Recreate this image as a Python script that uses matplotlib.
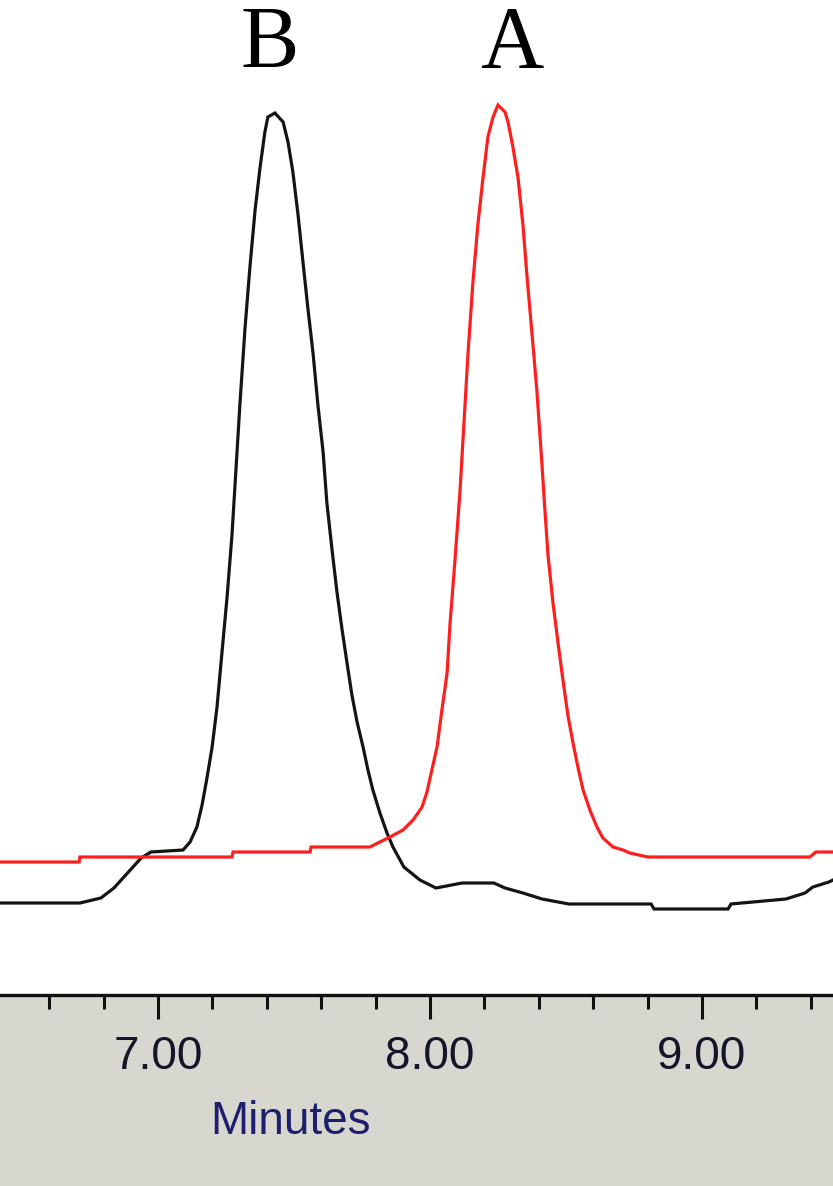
import matplotlib
matplotlib.use("Agg")
import matplotlib.pyplot as plt
from matplotlib.ticker import MultipleLocator, FormatStrFormatter

# ---- data (time in minutes, detector response in arbitrary units) ----
black_t = [6.419, 6.713, 6.790, 6.838, 6.938, 6.974, 7.092, 7.118, 7.143, 7.162,
           7.180, 7.199, 7.217, 7.235, 7.254, 7.272, 7.287, 7.301, 7.320, 7.338,
           7.357, 7.375, 7.393, 7.404, 7.430, 7.460, 7.478, 7.496, 7.515, 7.533,
           7.551, 7.570, 7.588, 7.607, 7.621, 7.640, 7.658, 7.676, 7.695, 7.713,
           7.732, 7.754, 7.772, 7.790, 7.816, 7.842, 7.864, 7.904, 7.963, 8.022,
           8.118, 8.235, 8.276, 8.342, 8.412, 8.511, 8.813, 8.824, 9.096, 9.107,
           9.309, 9.379, 9.408, 9.467, 9.482]
black_y = [92, 92, 97, 107, 137, 143, 145, 153, 168, 190,
           217, 248, 288, 342, 398, 460, 527, 590, 667, 728,
           785, 827, 863, 878, 882, 873, 853, 823, 780, 733,
           687, 642, 590, 543, 492, 445, 403, 367, 332, 300,
           273, 248, 225, 205, 182, 162, 148, 128, 115, 107,
           112, 112, 107, 102, 96, 91, 91, 86, 86, 91,
           96, 102, 108, 113, 115]

red_t = [6.419, 6.710, 6.713, 7.272, 7.276, 7.559, 7.563, 7.779, 7.816, 7.853,
         7.901, 7.938, 7.971, 7.989, 8.007, 8.026, 8.044, 8.063, 8.074, 8.092,
         8.110, 8.125, 8.140, 8.158, 8.176, 8.195, 8.213, 8.232, 8.250, 8.276,
         8.287, 8.305, 8.324, 8.342, 8.357, 8.375, 8.393, 8.412, 8.419, 8.434,
         8.452, 8.471, 8.489, 8.507, 8.526, 8.544, 8.563, 8.588, 8.614, 8.636,
         8.673, 8.710, 8.735, 8.801, 9.397, 9.419, 9.482]
red_y = [133, 133, 138, 138, 143, 143, 148, 148, 153, 158,
         165, 175, 188, 203, 225, 248, 285, 322, 372, 435,
         502, 572, 642, 713, 770, 817, 858, 878, 890, 883,
         873, 848, 817, 770, 718, 662, 605, 530, 500, 440,
         393, 352, 315, 280, 252, 228, 205, 185, 168, 157,
         148, 145, 142, 138, 138, 143, 143]

peak_labels = ["B", "A"]
peak_label_t = [7.412, 8.301]
peak_label_y = [928, 928]

x_range = (6.419, 9.482)
y_range = (0, 995)
major_step = 1.0
minor_step = 0.2
x_label = "Minutes"

# ---- figure ----
W, H = 833, 1186
fig = plt.figure(figsize=(W / 100, H / 100), dpi=100)
fig.patch.set_facecolor("#d7d7cf")

ax = fig.add_axes([0, 191 / H, 1, 995 / H])
ax.set_facecolor("white")
ax.set_xlim(*x_range)
ax.set_ylim(*y_range)

ax.plot(black_t, black_y, color="#141414", lw=2.3, solid_joinstyle="miter")
ax.plot(red_t, red_y, color="#ff1e1e", lw=2.3, solid_joinstyle="miter")

for lab, t, y in zip(peak_labels, peak_label_t, peak_label_y):
    ax.text(t, y, lab, ha="center", va="baseline", fontsize=63,
            family=["Liberation Serif", "DejaVu Serif"], color="black")

for s in ["top", "left", "right"]:
    ax.spines[s].set_visible(False)
ax.spines["bottom"].set_linewidth(2.4)
ax.spines["bottom"].set_color("#111111")

ax.yaxis.set_visible(False)
ax.xaxis.set_major_locator(MultipleLocator(major_step))
ax.xaxis.set_minor_locator(MultipleLocator(minor_step))
ax.xaxis.set_major_formatter(FormatStrFormatter("%.2f"))
ax.tick_params(axis="x", which="major", direction="out", length=17, width=2.2,
               color="#111111", pad=12, labelsize=33, labelcolor="#15152a")
ax.tick_params(axis="x", which="minor", direction="out", length=10, width=2.2,
               color="#111111")
for lbl in ax.get_xticklabels():
    lbl.set_family(["Liberation Sans", "DejaVu Sans"])

fig.text(290 / W, 1 - 1122 / H, x_label, ha="center", va="center", fontsize=33,
         family=["Liberation Sans", "DejaVu Sans"], color="#1e1e6e")

fig.savefig("out.png", dpi=100, facecolor=fig.get_facecolor())
